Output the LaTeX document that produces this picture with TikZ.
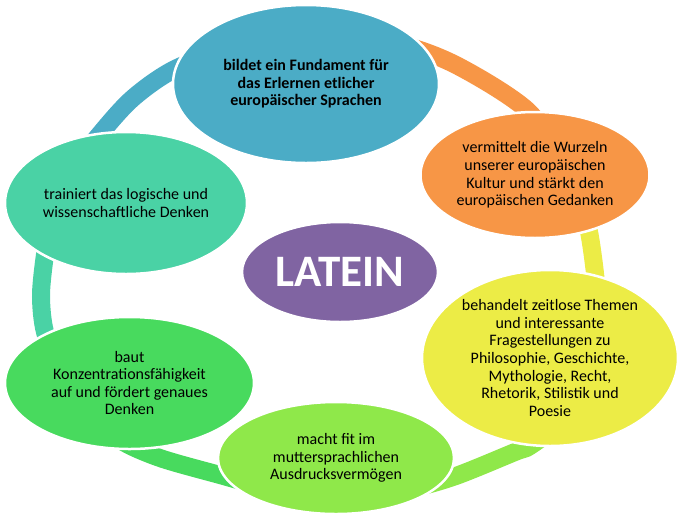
\documentclass[tikz,border=0pt]{standalone}
\usepackage{fontspec}
\setmainfont{Carlito}
\usetikzlibrary{shapes.geometric}
\pgfdeclarelayer{bg}
\pgfsetlayers{bg,main}
\definecolor{cblue}{HTML}{4BACC6}
\definecolor{corange}{HTML}{F79646}
\definecolor{cyellow}{RGB}{236,236,70}
\definecolor{clgreen}{RGB}{143,232,74}
\definecolor{cgreen}{RGB}{72,218,94}
\definecolor{cteal}{RGB}{74,210,165}
\definecolor{cpurple}{HTML}{8064A2}
\tikzset{
    every node/.style={ellipse, draw=white, line width=2.5pt, inner sep=0pt,
    	align=center, font=\fontsize{16}{17.6}\selectfont},
    band/.style={line width=18pt, line cap=butt}
}

\begin{document}
\begin{tikzpicture}[x=1pt, y=-1pt]
  \useasboundingbox (0,0) rectangle (683,523);

  \node (s1) [fill=cblue, minimum width=266pt, minimum height=158pt,
    font=\fontsize{16}{17.6}\selectfont\bfseries] at (306,84)
    {bildet ein Fundament für\\das Erlernen etlicher\\europäischer Sprachen};
  \node (s2) [fill=corange, minimum width=229pt, minimum height=126pt] at (535,175)
    {vermittelt die Wurzeln\\unserer europäischen\\Kultur und stärkt den\\europäischen Gedanken};
  \node (s3) [fill=cyellow, minimum width=256pt, minimum height=176pt] at (550,358)
    {behandelt zeitlose Themen\\und interessante\\Fragestellungen zu\\Philosophie, Geschichte,\\Mythologie, Recht,\\Rhetorik, Stilistik und\\Poesie};
  \node (s4) [fill=clgreen, minimum width=236pt, minimum height=112pt] at (336,458)
    {macht fit im\\muttersprachlichen\\Ausdrucksvermögen};
  \node (s5) [fill=cgreen, minimum width=249pt, minimum height=132pt] at (129.5,383)
    {baut\\Konzentrationsfähigkeit\\auf und fördert genaues\\Denken};
  \node (s6) [fill=cteal, minimum width=242pt, minimum height=142pt] at (126,203)
    {trainiert das logische und\\wissenschaftliche Denken};

  \node (c) [fill=cpurple, text=white, minimum width=196pt, minimum height=100pt,
    font=\fontsize{45}{50}\selectfont\bfseries] at (340,272) {LATEIN};

  \coordinate (r1) at (318,35);
  \coordinate (r2) at (568,170);
  \coordinate (r3) at (592,345);
  \coordinate (r4) at (336,497);
  \coordinate (r5) at (90,412);
  \coordinate (r6) at (60,185);

  \begin{pgfonlayer}{bg}
	  \draw[band, cblue] plot[smooth] coordinates
	    {(r6) (100,134) (133,98) (175,69) (240,45) (r1)};
	  \draw[band, corange] plot[smooth] coordinates
	    {(r1) (395,43) (456,65) (528,111) (r2)};
	  \draw[band, cyellow] plot[smooth] coordinates
	    {(r2) (585,215) (592,250) (597,300) (r3)};
	  \draw[band, clgreen] plot[smooth] coordinates
	    {(r3) (577,390) (556,425) (530,446) (515,452) (453,477) (400,491) (r4)};
	  \draw[band, cgreen] plot[smooth] coordinates
	    {(r4) (280,491) (220,475) (160,458) (120,440) (r5)};
	  \draw[band, cteal] plot[smooth] coordinates
	    {(r5) (62,378) (45,332) (41,297) (44,262) (50,225) (r6)};
  \end{pgfonlayer}

\end{tikzpicture}
\end{document}
